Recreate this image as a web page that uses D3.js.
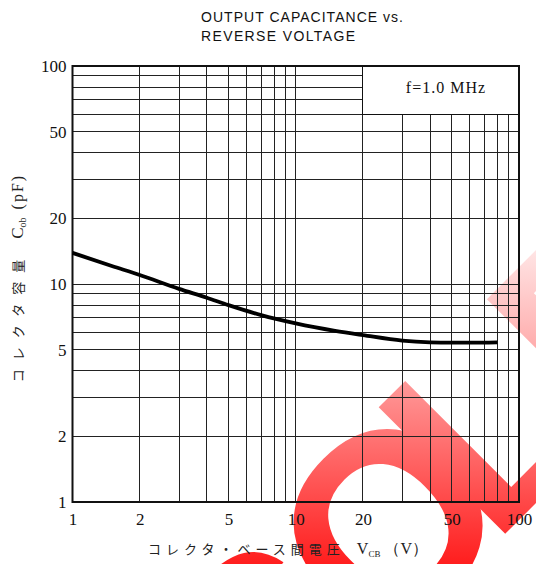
<!DOCTYPE html>
<html>
<head>
<meta charset="utf-8">
<script src="https://cdn.jsdelivr.net/npm/d3@7/dist/d3.min.js"></script>
<style>
  html, body { margin: 0; padding: 0; background: #fff; }
  svg { display: block; }
</style>
</head>
<body>
<svg id="chart" width="536" height="564"></svg>
<script>
// ---- data ----
const voltage = [1, 1.5, 2, 3, 4, 5, 7, 10, 15, 20, 30, 40, 50, 60, 80];
const capacitance = [13.9, 12.1, 11.0, 9.5, 8.65, 8.0, 7.2, 6.6, 6.1, 5.83, 5.5, 5.4, 5.38, 5.38, 5.4];
const xTickLabels = [1, 2, 5, 10, 20, 50, 100];
const yTickLabels = [1, 2, 5, 10, 20, 50, 100];
const gridValues = [2, 3, 4, 5, 6, 7, 8, 9, 10, 20, 30, 40, 50, 60, 70, 80, 90];
const titleLines = ["OUTPUT CAPACITANCE vs.", "REVERSE VOLTAGE"];
const legendText = "f=1.0 MHz";
const watermarkText = "OBSOLETE";
const watermarkLetterX = [-870, -668, -490, -331, -172, -19, 154, 313];

const svg = d3.select("#chart");
const L = 72.5, R = 519, T = 66, B = 502;
const x = d3.scaleLog().domain([1, 100]).range([L, R]);
const y = d3.scaleLog().domain([1, 100]).range([B, T]);

// ---- watermark (behind) ----
const defs = svg.append("defs");
const grad = defs.append("linearGradient").attr("id", "wmgrad")
  .attr("gradientUnits", "userSpaceOnUse")
  .attr("x1", 0).attr("y1", 230).attr("x2", 0).attr("y2", 564);
grad.append("stop").attr("offset", "0%").attr("stop-color", "#fff0f0");
grad.append("stop").attr("offset", "45%").attr("stop-color", "#ff9a9a");
grad.append("stop").attr("offset", "100%").attr("stop-color", "#ff1e1e");
const clip = defs.append("clipPath").attr("id", "wmclip");
clip.append("text")
  .attr("transform", "translate(483,293) rotate(-45) translate(0,186)")
  .attr("x", watermarkLetterX.join(" "))
  .attr("font-family", "Liberation Sans")
  .attr("font-weight", "bold")
  .attr("font-size", 260)
  .text(watermarkText);
svg.append("rect").attr("width", 536).attr("height", 564)
  .attr("fill", "url(#wmgrad)").attr("clip-path", "url(#wmclip)");

// ---- grid ----
const grid = svg.append("g").attr("stroke", "#222").attr("stroke-width", 1).attr("shape-rendering", "crispEdges");
grid.selectAll("line.v").data(gridValues).enter().append("line")
  .attr("x1", d => x(d)).attr("x2", d => x(d))
  .attr("y1", T).attr("y2", B);
grid.selectAll("line.h").data(gridValues).enter().append("line")
  .attr("y1", d => y(d)).attr("y2", d => y(d))
  .attr("x1", L).attr("x2", R);

// legend box
svg.append("rect")
  .attr("x", x(20)).attr("y", T)
  .attr("width", R - x(20)).attr("height", y(60) - T)
  .attr("fill", "#fff").attr("stroke", "#111").attr("stroke-width", 1)
  .attr("shape-rendering", "crispEdges");
svg.append("text")
  .attr("x", (x(20) + R) / 2 + 5).attr("y", 93)
  .attr("text-anchor", "middle")
  .attr("font-family", "Liberation Serif").attr("font-size", 16)
  .attr("letter-spacing", 1)
  .attr("fill", "#111")
  .text(legendText);

// frame
svg.append("rect").attr("x", L).attr("y", T).attr("width", R - L).attr("height", B - T)
  .attr("fill", "none").attr("stroke", "#111").attr("stroke-width", 2);

// ---- curve ----
const pts = voltage.map((v, i) => [v, capacitance[i]]);
svg.append("path").datum(pts)
  .attr("fill", "none").attr("stroke", "#000").attr("stroke-width", 3.8)
  .attr("stroke-linejoin", "round")
  .attr("d", d3.line().x(d => x(d[0])).y(d => y(d[1])).curve(d3.curveMonotoneX));

// ---- axes ----
const fmt = d => String(d);
const xAxis = svg.append("g").attr("transform", `translate(0,${B + 7})`)
  .call(d3.axisBottom(x).tickValues(xTickLabels).tickFormat(fmt).tickSize(0).tickPadding(4));
const yAxis = svg.append("g").attr("transform", `translate(${L - 6},0)`)
  .call(d3.axisLeft(y).tickValues(yTickLabels).tickFormat(fmt).tickSize(0).tickPadding(0));
[xAxis, yAxis].forEach(a => {
  a.select(".domain").remove();
  a.selectAll("text").attr("font-family", "Liberation Serif").attr("font-size", 17).attr("fill", "#111");
});

// ---- title ----
const titleWidths = [202, 154];
svg.append("g").selectAll("text").data(titleLines).enter().append("text")
  .attr("x", 201).attr("y", (d, i) => 22 + i * 18.5)
  .attr("font-family", "Liberation Sans").attr("font-size", 14)
  .attr("textLength", (d, i) => titleWidths[i]).attr("lengthAdjust", "spacing")
  .attr("fill", "#111")
  .text(d => d);

// ---- axis titles ----
const xt = svg.append("text").attr("x", 288).attr("y", 554).attr("text-anchor", "middle")
  .attr("fill", "#222").attr("font-size", 13);
xt.append("tspan").attr("font-family", "Noto Sans CJK JP").attr("letter-spacing", 5).text("コレクタ・ベース間電圧");
xt.append("tspan").attr("font-family", "Liberation Serif").attr("font-size", 16).attr("dx", 12).text("V");
xt.append("tspan").attr("font-family", "Liberation Serif").attr("font-size", 9).attr("dy", 3).text("CB");
xt.append("tspan").attr("font-family", "Liberation Serif").attr("font-size", 16).attr("dy", -3).attr("dx", 4).text("（V）");

const yt = svg.append("text").attr("transform", "translate(23,278) rotate(-90)").attr("text-anchor", "middle")
  .attr("fill", "#222").attr("font-size", 13);
yt.append("tspan").attr("font-family", "Noto Sans CJK JP").attr("letter-spacing", 9).text("コレクタ容量");
yt.append("tspan").attr("font-family", "Liberation Serif").attr("font-size", 17).attr("dx", 12).text("C");
yt.append("tspan").attr("font-family", "Liberation Serif").attr("font-size", 10).attr("dy", 3).text("ob");
yt.append("tspan").attr("font-family", "Liberation Serif").attr("font-size", 16).attr("dy", -3).attr("dx", 8).attr("letter-spacing", 2).text("(pF)");
</script>
</body>
</html>
